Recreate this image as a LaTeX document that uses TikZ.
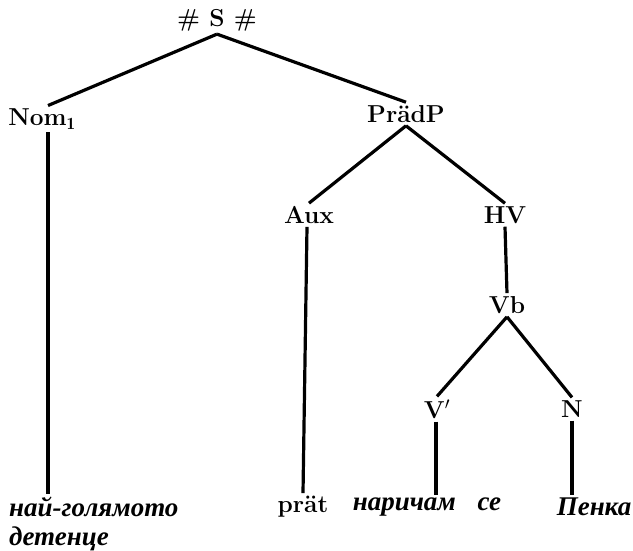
\documentclass[tikz,border=0pt]{standalone}
\usepackage{fontspec}
\newfontfamily\cyr{Liberation Serif}
\begin{document}
\begin{tikzpicture}[x=1pt,y=-1pt,
  lab/.style={inner sep=3pt, font=\fontsize{24.5}{28}\selectfont\bfseries},
  cyrlab/.style={inner sep=3pt, font=\fontsize{27}{29}\selectfont\cyr\bfseries\itshape},
  br/.style={line width=3.2pt}]
\useasboundingbox (0,0) rectangle (633,550);
\node[lab] (S) at (217,20) {\# S \#};
\node[lab] (Nom) at (42,119) {Nom$_{\mathbf{1}}$};
\node[lab] (Pr) at (406,114) {PrädP};
\node[lab] (Aux) at (309,215) {Aux};
\node[lab] (HV) at (505,215) {HV};
\node[lab] (Vb) at (507,305) {Vb};
\node[lab] (V) at (437,409) {V$'$};
\node[lab] (N) at (572,409) {N};
\node[cyrlab, anchor=north west, align=left] (L1) at (6,494) {най-голямото\\детенце};
\node[lab] (L2) at (303,507) {prät};
\node[cyrlab] (L3) at (427,507) {наричам\hspace{0.8em}се};
\node[cyrlab] (L4) at (594,507) {Пенка};
\draw[br] (S.south) -- ([xshift=6pt]Nom.north);
\draw[br] (S.south) -- (Pr.north);
\draw[br] (Pr.south) -- (Aux.north);
\draw[br] (Pr.south) -- (HV.north);
\draw[br] (HV.south) -- (Vb.north);
\draw[br] (Vb.south) -- (V.north);
\draw[br] (Vb.south) -- (N.north);
\draw[br] ([xshift=6pt]Nom.south) -- ([xshift=6pt]Nom.south |- L1.north);
\draw[br] ([xshift=-2pt]Aux.south) -- (L2.north);
\draw[br] ([xshift=-1pt]V.south) -- ([xshift=-1pt]V.south |- L3.north);
\draw[br] (N.south) -- (N.south |- L4.north);
\end{tikzpicture}
\end{document}
